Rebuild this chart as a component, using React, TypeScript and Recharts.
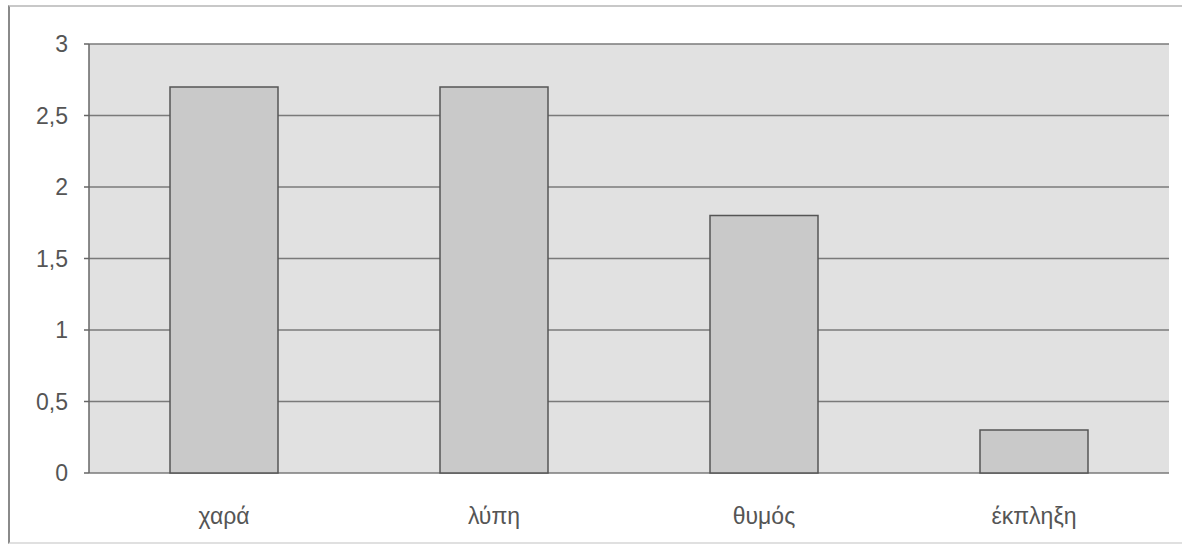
import { Bar, BarChart, CartesianGrid, ReferenceLine, XAxis, YAxis } from "recharts";

const categories = ["χαρά", "λύπη", "θυμός", "έκπληξη"];
const values = [2.7, 2.7, 1.8, 0.3];
const yTicks = [0, 0.5, 1, 1.5, 2, 2.5, 3];
// category boundaries on the helper axis, for the small tick marks
const boundaryTicks = [0, 1, 2, 3, 4];

const data = categories.map((name, i) => ({ name, value: values[i] }));

const LABEL_STYLE = { fill: "#555", fontSize: 23, fontFamily: "Liberation Sans, Arial, sans-serif" };
const AXIS_STROKE = "#666";

const formatComma = (v: number) => String(v).replace(".", ",");

export default function App() {
  return (
    <div style={{ position: "fixed", left: 0, top: 0, width: 1182, height: 545, background: "#fff" }}>
      <div
        style={{
          position: "absolute",
          left: 8,
          top: 5,
          width: 1174,
          height: 535,
          borderLeft: "2px solid #8a8a8a",
          borderTop: "2px solid #c8c8c8",
          borderBottom: "2px solid #e0e0e0",
        }}
      />
      <div style={{ position: "absolute", left: 0, top: 0 }}>
        <BarChart
          width={1182}
          height={545}
          data={data}
          margin={{ top: 44, right: 13, bottom: 0, left: 0 }}
          barCategoryGap="30%"
        >
          <CartesianGrid vertical={false} stroke="#7a7a7a" strokeWidth={1.5} fill="#e1e1e1" fillOpacity={1} yAxisId="v" xAxisId="t" />
          <XAxis
            xAxisId="t"
            type="number"
            domain={[0, 4]}
            ticks={boundaryTicks}
            tickFormatter={() => ""}
            height={0}
            tickSize={6}
            stroke={AXIS_STROKE}
            strokeWidth={1.5}
          />
          <XAxis
            xAxisId="cat"
            dataKey="name"
            height={72}
            axisLine={false}
            tickLine={false}
            tickMargin={29}
            tick={LABEL_STYLE}
          />
          <YAxis
            yAxisId="v"
            domain={[0, 3]}
            ticks={yTicks}
            width={89}
            tickSize={5}
            tickMargin={16}
            tickFormatter={formatComma}
            tick={LABEL_STYLE}
            stroke={AXIS_STROKE}
            strokeWidth={1.5}
          />
          <ReferenceLine xAxisId="t" yAxisId="v" x={4} stroke="#8a8a8a" strokeWidth={1.5} />
          <Bar
            xAxisId="cat"
            yAxisId="v"
            dataKey="value"
            fill="#c9c9c9"
            stroke="#555"
            strokeWidth={1.5}
            isAnimationActive={false}
          />
        </BarChart>
      </div>
    </div>
  );
}
